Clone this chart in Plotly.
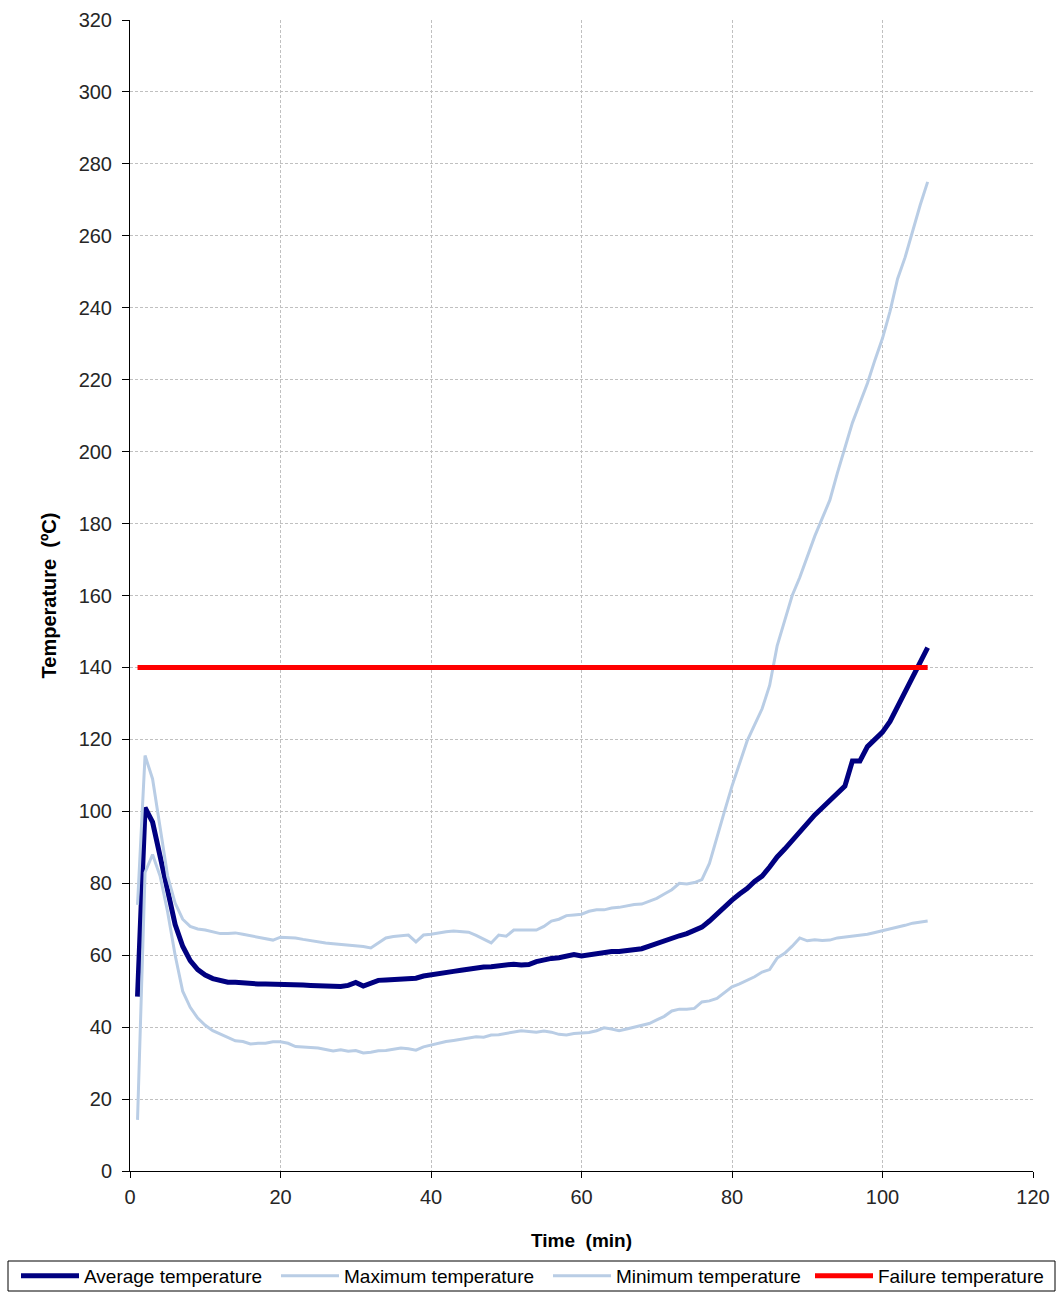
import plotly.graph_objects as go

# Time axis (minutes)
time_min = list(range(1, 107))

avg_temp = [
    48.5, 101, 97, 88, 78, 68.5, 62.5, 58.5, 56, 54.5,
    53.5, 53, 52.5, 52.5, 52.3, 52, 52, 52, 52, 52,
    51.8, 51.7, 51.7, 51.6, 51.5, 51.2, 51.2, 51.3, 51.6, 52.4,
    51.4, 52.2, 53, 53.1, 53.2, 53.2, 53.3, 53.6, 54.2, 54.6,
    55, 55.3, 55.5, 55.8, 56.2, 56.6, 56.7, 56.8, 57, 57.2,
    57.5, 57.3, 57.4, 58.2, 58.8, 59.1, 59.3, 59.8, 60.2, 59.8,
    60.1, 60.5, 60.8, 61, 61, 61.2, 61.4, 61.8, 62.5, 63.3,
    64.1, 64.8, 65.4, 66, 66.8, 67.8, 69.5, 71.5, 73.5, 75.3,
    77, 78.5, 80.5, 82, 84.5, 87.3, 89.5, 92, 94.5, 96.5,
    99, 101, 103, 105, 107, 114, 114, 118, 120, 122,
    125, 129, 133, 137, 141.5, 145.5,
]

max_temp = [
    74, 115.5, 109, 95, 82, 74.5, 70, 68, 67.3, 67,
    66.5, 66, 66, 66.2, 65.8, 65.4, 65, 64.7, 64.2, 65,
    65, 64.8, 64.4, 64, 63.7, 63.4, 63.2, 63, 62.8, 62.7,
    62.4, 62, 63.5, 64.8, 65.2, 65.5, 65.6, 63.7, 65.6, 65.8,
    66.2, 66.5, 66.7, 66.5, 66.4, 65.5, 64.5, 63.4, 65.6, 65.3,
    67, 67, 67, 67, 68, 69.5, 70, 71, 71.2, 71.4,
    72.2, 72.6, 72.6, 73.1, 73.3, 73.8, 74.1, 74.2, 75, 75.8,
    77, 78.2, 80, 79.8, 80.2, 81, 85.5, 93, 100, 107,
    113.5, 119.5, 124, 128.5, 135, 146, 153, 160, 165, 171,
    176.5, 181.5, 186.5, 194, 201, 208, 213.5, 219, 225.5, 231.5,
    239, 248, 254, 261.5, 268.5, 275,
]

min_temp = [
    14.2, 83, 88, 82, 72, 60, 50, 45.5, 42.5, 40.5,
    39, 38, 37, 36.2, 36, 35.3, 35.5, 35.5, 35.9, 35.9,
    35.5, 34.6, 34.5, 34.4, 34.2, 33.8, 33.4, 33.7, 33.3, 33.5,
    32.8, 33, 33.4, 33.5, 33.8, 34.2, 34, 33.6, 34.5, 35,
    35.6, 36, 36.3, 36.6, 37, 37.3, 37.2, 37.8, 37.9, 38.2,
    38.6, 39, 38.8, 38.6, 38.9, 38.6, 38, 37.8, 38.2, 38.4,
    38.5, 39, 39.8, 39.5, 39, 39.5, 40, 40.3, 41, 42,
    43, 44.5, 45, 45, 45.2, 47, 47.3, 48, 49.5, 51.2,
    52, 53, 54, 55.3, 56, 59.2, 60.5, 62.5, 64.8, 64,
    64.3, 64.1, 64.2, 64.8, 65, 65.2, 65.4, 65.8, 66.3, 66.8,
    67.2, 67.6, 68.3, 68.9, 69.2, 69.5,
]

failure_temp = [140] * len(time_min)

x_ticks = [0, 20, 40, 60, 80, 100, 120]
y_ticks = list(range(0, 321, 20))

FONT = "Liberation Sans, Arial, sans-serif"
LIGHT = "#b9cde5"
W, H = 1058, 1293
ML, MR, MT, MB = 130, 25, 20, 122
PW, PH = W - ML - MR, H - MT - MB

series = [
    ("Average temperature", avg_temp, "#000080", 5, "legend"),
    ("Maximum temperature", max_temp, LIGHT, 3, "legend2"),
    ("Minimum temperature", min_temp, LIGHT, 3, "legend3"),
    ("Failure temperature", failure_temp, "#ff0000", 5, "legend4"),
]

fig = go.Figure()
for name, vals, color, width, leg in series:
    fig.add_trace(go.Scatter(x=time_min, y=vals, mode="lines", name=name, showlegend=True,
                             line=dict(color=color, width=width), legend=leg))

axis_common = dict(
    showline=True, linecolor="black", linewidth=1,
    ticks="outside", tickcolor="black",
    showgrid=True, gridcolor="#c0c0c0", gridwidth=1, griddash="3px,2px",
    zeroline=False, tickfont=dict(family=FONT, size=20, color="#262626"),
)

fig.update_xaxes(range=[0, 120], tickvals=x_ticks, ticklen=6, ticklabelstandoff=2,
                 title=dict(text="<b>Time  (min)</b>", font=dict(family=FONT, size=19, color="black"), standoff=26),
                 **axis_common)
fig.update_yaxes(range=[0, 320], tickvals=y_ticks, ticklen=7, ticklabelstandoff=6,
                 title=dict(text="<b>Temperature  (ºC)</b>", font=dict(family=FONT, size=20, color="black"), standoff=16),
                 **axis_common)

# one legend per entry so the four items spread across the boxed strip
legend_font = dict(family=FONT, size=19, color="black")
legend_x_px = [16, 276, 548, 810]
legend_keys = ["legend", "legend2", "legend3", "legend4"]
legend_cfg = {}
for key, xpx in zip(legend_keys, legend_x_px):
    legend_cfg[key] = dict(
        orientation="h", xref="container", yref="container",
        x=xpx / W, xanchor="left", y=(H - 1276) / H, yanchor="middle",
        borderwidth=0, bgcolor="rgba(0,0,0,0)", font=legend_font,
        itemwidth=58, visible=True,
    )

# frame around the legend strip
fig.add_shape(type="rect", xref="paper", yref="paper",
              x0=(8 - ML) / PW, x1=(1055 - ML) / PW,
              y0=(MT + PH - 1291) / PH, y1=(MT + PH - 1261) / PH,
              line=dict(color="black", width=1), fillcolor="rgba(0,0,0,0)", layer="above")

fig.update_layout(
    width=W, height=H,
    margin=dict(l=ML, r=MR, t=MT, b=MB, autoexpand=False),
    plot_bgcolor="white", paper_bgcolor="white",
    showlegend=True,
    font=dict(family=FONT, size=19, color="black"),
    **legend_cfg,
)

fig.write_html("out.html")
